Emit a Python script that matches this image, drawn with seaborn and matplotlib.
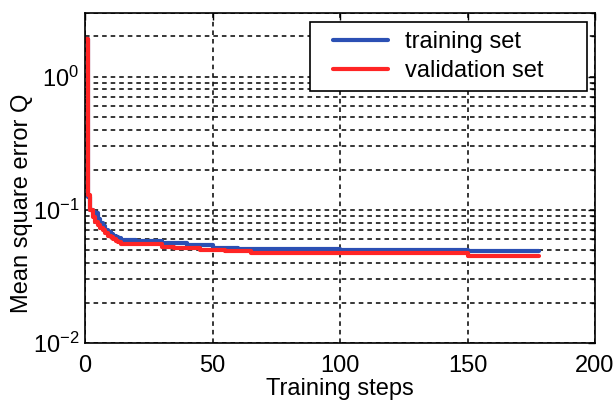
import numpy as np
import pandas as pd
import matplotlib
matplotlib.use("Agg")
import matplotlib.pyplot as plt
from matplotlib.patches import Rectangle
from matplotlib.ticker import LogLocator, NullFormatter, FixedLocator
import seaborn as sns

# Mean square error per training step (breakpoints of a stepwise curve)
steps_train = [0, 1, 2, 3, 4, 5, 6, 7, 8, 9, 10, 11, 12, 13, 14, 20, 30, 40, 50, 60, 80, 100, 120, 140, 148, 150, 178]
q_train = [1.9, 0.125, 0.100, 0.097, 0.094, 0.086, 0.080, 0.075, 0.071, 0.068, 0.066, 0.064, 0.062, 0.061, 0.059,
           0.058, 0.056, 0.054, 0.052, 0.051, 0.0505, 0.050, 0.050, 0.050, 0.050, 0.049, 0.049]

steps_val = [0, 1, 2, 3, 4, 5, 6, 7, 8, 9, 10, 11, 12, 13, 14, 20, 30, 35, 45, 55, 65, 75, 80, 100, 120, 148, 150, 178]
q_val = [1.9, 0.128, 0.100, 0.088, 0.081, 0.077, 0.073, 0.070, 0.067, 0.064, 0.062, 0.060, 0.058, 0.057, 0.055,
         0.055, 0.053, 0.052, 0.050, 0.049, 0.047, 0.047, 0.047, 0.047, 0.047, 0.047, 0.045, 0.045]

series_names = ["training set", "validation set"]
series_colors = ["#2b50b4", "#ff2525"]

x_ticks = [0, 50, 100, 150, 200]

df = pd.concat([
    pd.DataFrame({"step": steps_train, "Q": q_train, "set": series_names[0]}),
    pd.DataFrame({"step": steps_val, "Q": q_val, "set": series_names[1]}),
], ignore_index=True)

sns.set_style("white")
plt.rcParams["font.family"] = ["Liberation Sans", "DejaVu Sans"]
plt.rcParams["mathtext.default"] = "regular"
plt.rcParams["text.color"] = "black"
plt.rcParams["axes.labelcolor"] = "black"
plt.rcParams["xtick.color"] = "black"
plt.rcParams["ytick.color"] = "black"

FS = 17

fig = plt.figure(figsize=(6.16, 4.01), dpi=100)
ax = fig.add_axes([85 / 616, 1 - 343 / 401, 510 / 616, 330 / 401])

sns.lineplot(data=df, x="step", y="Q", hue="set", hue_order=series_names,
             palette=series_colors, estimator=None, drawstyle="steps-post",
             linewidth=3.0, ax=ax, legend=True)

ax.set_yscale("log")
ax.set_xlim(0, 200)
ax.set_ylim(0.01, 3)
ax.xaxis.set_major_locator(FixedLocator(x_ticks))
ax.yaxis.set_major_locator(LogLocator(base=10))
ax.yaxis.set_minor_locator(LogLocator(base=10, subs=np.arange(2, 10)))
ax.yaxis.set_minor_formatter(NullFormatter())

grid_kw = dict(color="black", linestyle=(0, (3, 2.6)), linewidth=1.1)
ax.grid(True, which="major", axis="x", **grid_kw)
ax.grid(True, which="both", axis="y", **grid_kw)
ax.set_axisbelow(True)

ax.tick_params(which="both", direction="in", top=True, right=True,
               labelsize=FS, width=1.0)
ax.tick_params(which="major", length=5)
ax.tick_params(which="minor", length=3)
ax.tick_params(axis="x", pad=9)
ax.tick_params(axis="y", pad=4)

for s in ax.spines.values():
    s.set_color("black")
    s.set_linewidth(1.2)

ax.set_xlabel("Training steps", fontsize=FS)
ax.set_ylabel("Mean square error Q", fontsize=FS)
ax.xaxis.set_label_coords(0.5, -0.106)
ax.yaxis.set_label_coords(-0.102, 0.424)

# boxed legend
frame = Rectangle((0.441, 0.764), 0.543, 0.209, transform=ax.transAxes,
                  facecolor="white", edgecolor="black", linewidth=1.2, zorder=4)
ax.add_patch(frame)
leg = ax.legend(loc="upper left", bbox_to_anchor=((333 - 85) / 510, (343 - 31) / 330),
                fontsize=FS, frameon=False, handlelength=2.35, handletextpad=0.68,
                labelspacing=0.3, borderpad=0, borderaxespad=0)
leg.set_zorder(5)
for line in leg.get_lines():
    line.set_linewidth(3.0)

fig.savefig("out.png", dpi=100, facecolor="white")
